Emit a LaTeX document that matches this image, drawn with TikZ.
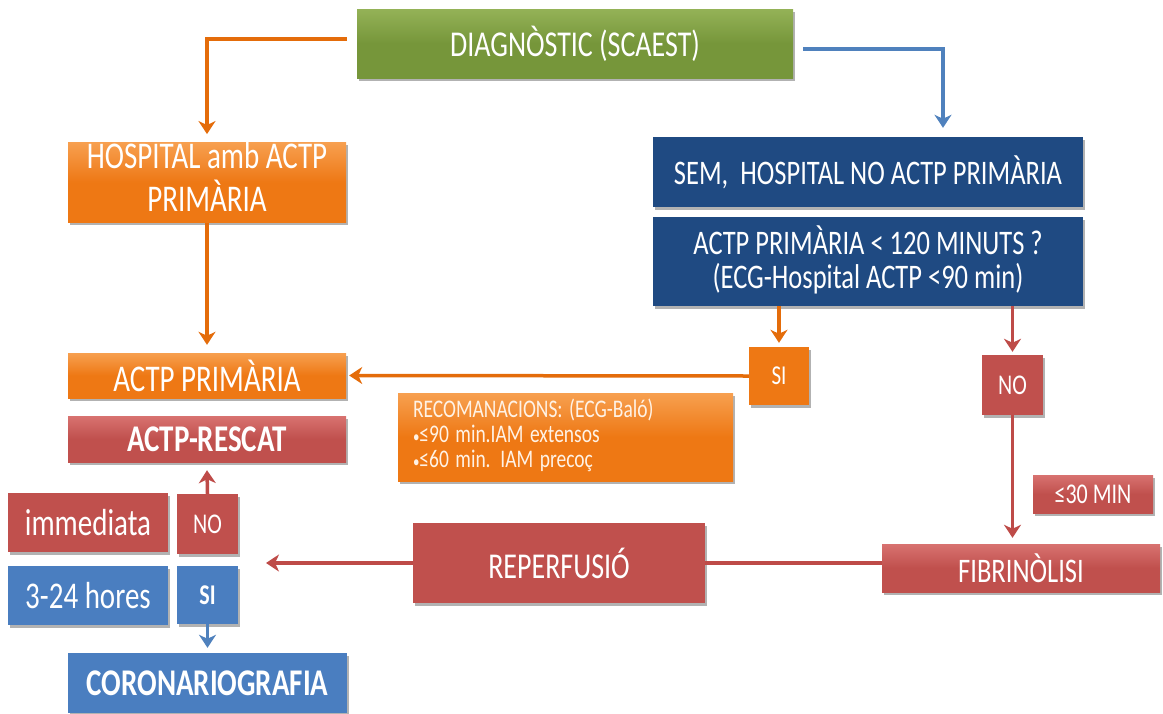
\documentclass[tikz,border=0pt]{standalone}
\usepackage{fontspec}
\setmainfont{Carlito}
\usepackage{graphicx}
\usetikzlibrary{arrows.meta,shadows}
\definecolor{cgreen}{HTML}{76963A}
\definecolor{cgreenL}{HTML}{94B257}
\definecolor{corange}{HTML}{EE7814}
\definecolor{corangeL}{HTML}{F7A050}
\definecolor{cdblue}{HTML}{1F4A82}
\definecolor{cblue}{HTML}{4A7EC0}
\definecolor{cred}{HTML}{C0504D}
\definecolor{credL}{HTML}{D87270}
\definecolor{aorange}{HTML}{E46C0A}
\definecolor{ablue}{HTML}{4F81BD}
\definecolor{ared}{HTML}{BE4B48}
\newcommand\vs[1]{\scalebox{1}[1.3]{#1}}
\newcommand\two[2]{\vs{\begin{tabular}{@{}c@{}}#1\\#2\end{tabular}}}
\newcommand\F[1]{\fontsize{#1}{#1}\selectfont}
\newcommand\sbul{{\fontsize{13}{13}\selectfont•}}
\begin{document}
\begin{tikzpicture}[x=1pt,y=-1pt,
  box/.style={rectangle, inner sep=0pt, text=white, align=center,
    drop shadow={shadow xshift=2pt, shadow yshift=-2.5pt, opacity=0.3, fill=black}},
  gbox/.style={box, top color=cgreenL, bottom color=cgreen, middle color=cgreen},
  obox/.style={box, top color=corangeL, bottom color=corange, middle color=corange},
  ofl/.style={box, fill=corange},
  rbox/.style={box, top color=credL, bottom color=cred, middle color=cred},
  rfl/.style={box, fill=cred},
  dbbox/.style={box, fill=cdblue},
  bbox/.style={box, fill=cblue},
  conn/.style={line width=3.5pt, -{Stealth[length=13pt,width=17pt,inset=4pt]}},
  plain/.style={line width=3.5pt}
]
\useasboundingbox (0,0) rectangle (1163,713);

% nodes
\node[gbox, minimum width=436pt, minimum height=69pt, font=\F{28}] (diag) at (575,43.5) {\vs{DIAGNÒSTIC (SCAEST)}};
\node[obox, minimum width=278pt, minimum height=69pt, font=\F{29}] (hosp) at (207,182.5) {\two{HOSPITAL amb ACTP}{PRIMÀRIA}};
\node[obox, minimum width=278pt, minimum height=45pt, font=\F{29}] (actp) at (207,375.5) {\vs{ACTP PRIMÀRIA}};
\node[rbox, minimum width=278pt, minimum height=46pt, font=\F{29}\bfseries] (rescat) at (207,439) {\vs{ACTP-RESCAT}};
\node[rfl, minimum width=160pt, minimum height=59pt, font=\F{29}] (imm) at (88,522.5) {\vs{immediata}};
\node[rfl, minimum width=61pt, minimum height=60pt, font=\F{22}] (no1) at (207.5,524) {\vs{NO}};
\node[bbox, minimum width=160pt, minimum height=59pt, font=\F{29}] (hores) at (88,595.5) {\vs{3-24 hores}};
\node[bbox, minimum width=61pt, minimum height=58pt, font=\F{22}\bfseries] (si1) at (207.5,595) {\vs{SI}};
\node[bbox, minimum width=279pt, minimum height=60pt, font=\F{29}\bfseries] (coro) at (207.5,683) {\vs{CORONARIOGRAFIA}};

\node[dbbox, minimum width=430pt, minimum height=70pt, font=\F{26.5}] (sem) at (868,172) {\vs{SEM,\ \ HOSPITAL NO ACTP PRIMÀRIA}};
\node[dbbox, minimum width=430pt, minimum height=89pt, font=\fontsize{26.5}{23}\selectfont] (q) at (868,261.5) {\two{ACTP PRIMÀRIA < 120 MINUTS ?}{(ECG-Hospital ACTP <90 min)}};
\node[ofl, minimum width=60pt, minimum height=58pt, font=\F{21}] (si2) at (779,376) {\vs{SI}};
\node[rfl, minimum width=61pt, minimum height=60pt, font=\F{22}] (no2) at (1012.5,385) {\vs{NO}};
\node[obox, minimum height=88pt, inner xsep=15pt, text width=305pt, align=left, text=white!90!orange,
      font=\fontsize{19.5}{19.2}\selectfont] (rec) at (565.5,437)
      {\vs{\begin{tabular}{@{}l@{}}RECOMANACIONS: (ECG-Baló)\\\sbul≤90 min.IAM extensos\\\sbul≤60 min. IAM precoç\end{tabular}}};
\node[rbox, minimum width=120pt, minimum height=38pt, font=\F{22}] (min30) at (1093,494) {\vs{≤30 MIN}};
\node[rbox, minimum width=278pt, minimum height=48pt, font=\F{26.5}] (fib) at (1021,568) {\vs{FIBRINÒLISI}};
\node[rfl, minimum width=292pt, minimum height=80pt, font=\F{28}] (rep) at (559,563) {\vs{REPERFUSIÓ}};

% connectors
\coordinate (fibin) at (no2.south |- fib.north);
\coordinate (repend) at (266,563);
\draw[conn, aorange] ([xshift=-10pt,yshift=4.5pt]diag.west) -| ([yshift=8pt]hosp.north);
\draw[conn, ablue] ([xshift=10pt,yshift=-5.5pt]diag.east) -| ([xshift=75pt,yshift=9pt]sem.north);
\draw[conn, aorange] (hosp.south) -- ([yshift=8pt]actp.north);
\draw[conn, aorange] (si2.north |- q.south) -- ([yshift=4pt]si2.north);
\draw[conn, ared] (no2.north |- q.south) -- ([yshift=3pt]no2.north);
\draw[conn, aorange] (si2.west) -- ([xshift=3pt]actp.east);
\draw[conn, ared] (no2.south) -- ([yshift=6pt]fibin);
\draw[plain, ared] (rep.east) -- (rep.east -| fib.west);
\draw[conn, ared] (rep.west) -- (repend);
\draw[conn, ared] (no1.north) -- ([yshift=-8pt]rescat.south);
\draw[conn, ablue] (si1.south) -- ([yshift=5pt]coro.north);
\end{tikzpicture}
\end{document}
